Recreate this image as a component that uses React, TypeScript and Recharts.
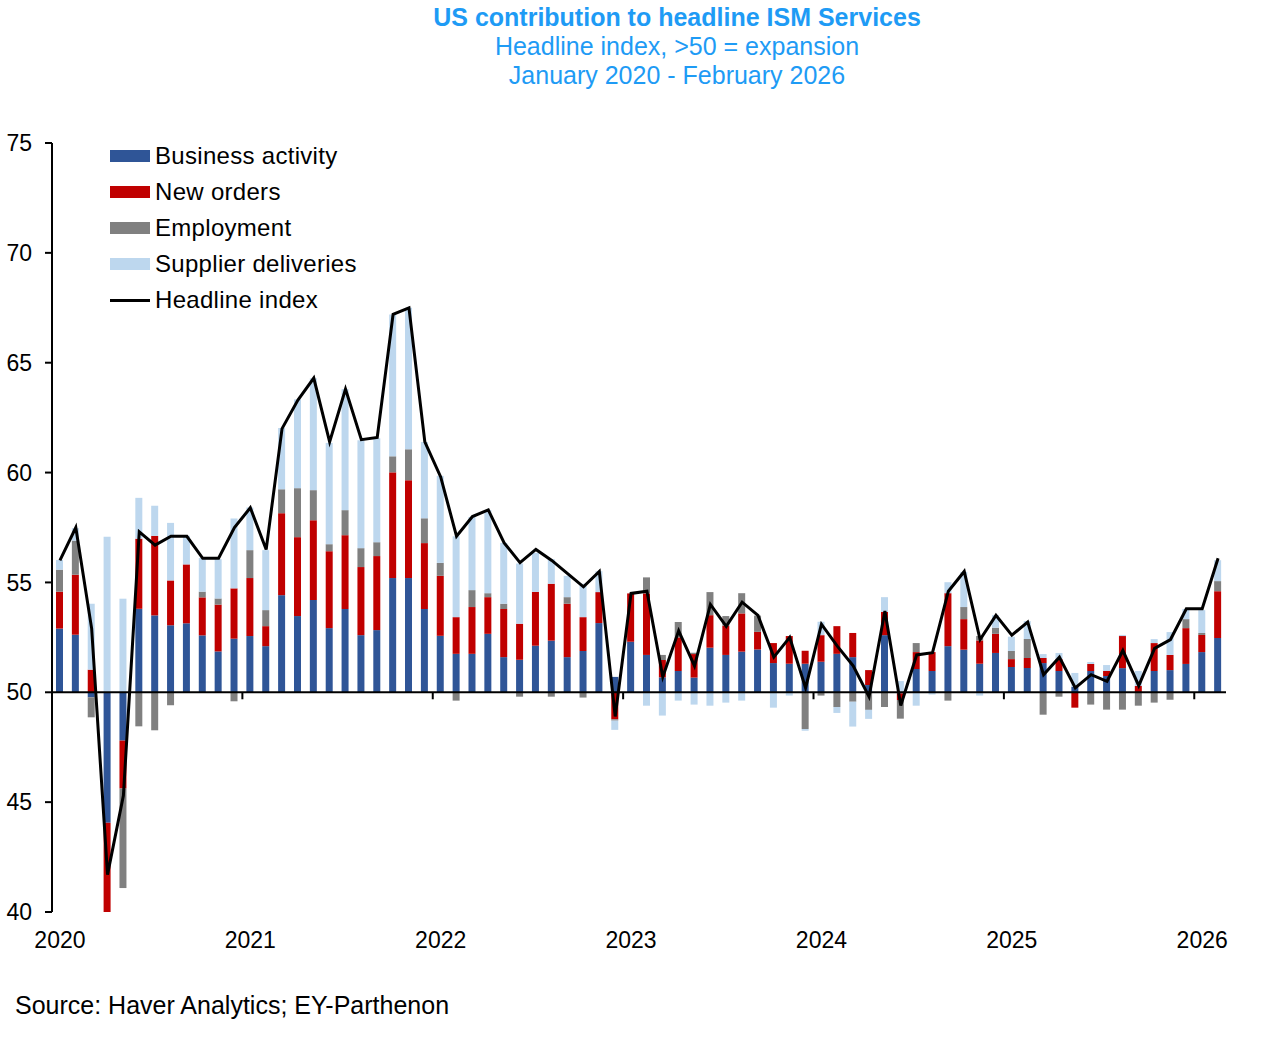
import React from "react";
import { Bar, ComposedChart, Legend, Line, ReferenceLine, XAxis, YAxis } from "recharts";

const YEARS = ["2020", "2021", "2022", "2023", "2024", "2025", "2026"];
const MONTH_COUNT = 74; // Jan 2020 - Feb 2026
const MONTHS = YEARS.flatMap((y) =>
  ["01", "02", "03", "04", "05", "06", "07", "08", "09", "10", "11", "12"].map((m) => `${y}-${m}`)
).slice(0, MONTH_COUNT);

// contributions to the headline, in index points (component - 50) / 4
const BUSINESS_ACTIVITY = [
  2.9, 2.62, -0.23, -5.94, -2.2, 3.8, 3.5, 3.05, 3.14, 2.59, 1.86, 2.44,
  2.56, 2.1, 4.42, 3.47, 4.2, 2.92, 3.79, 2.6, 2.83, 5.2, 5.2, 3.79,
  2.57, 1.75, 1.75, 2.66, 1.6, 1.48, 2.12, 2.35, 1.6, 1.88, 3.15, 0.7,
  2.3, 1.7, 0.68, 0.97, 0.67, 2.03, 1.7, 1.85, 1.95, 1.33, 1.3, 1.3,
  1.39, 1.75, 1.6, 0.33, 2.6, -0.05, 1.06, 0.97, 2.1, 1.94, 1.3, 1.79,
  1.15, 1.1, 1.33, 0.97, 0.25, 0.97, 0.74, 1.1, 0.0, 0.97, 1.01, 1.29,
  1.83, 2.47,
];
const NEW_ORDERS = [
  1.68, 2.73, 1.03, -4.3, -2.18, 3.19, 3.62, 2.04, 2.68, 1.73, 2.13, 2.29,
  2.64, 0.91, 3.73, 3.59, 3.63, 3.5, 3.36, 3.1, 3.37, 4.81, 4.45, 3.0,
  2.73, 1.67, 2.13, 1.67, 2.19, 1.64, 2.45, 2.59, 2.43, 1.54, 1.41, -1.23,
  2.2, 2.8, 0.79, 1.53, 1.07, 1.48, 1.33, 1.74, 0.8, 0.91, 1.26, 0.59,
  1.21, 1.26, 1.1, 0.68, 1.06, -0.3, 0.77, 0.86, 2.41, 1.39, 1.06, 0.87,
  0.36, 0.46, 0.23, 0.54, -0.7, 0.32, 0.23, 1.46, 0.29, 1.27, 0.69, 1.63,
  0.78, 2.13,
];
const EMPLOYMENT = [
  1.0, 1.55, -0.91, -5.0, -4.53, -1.55, -1.73, -0.59, 0, 0.26, 0.28, -0.41,
  1.27, 0.73, 1.09, 2.23, 1.37, 0.32, 1.14, 0.86, 0.63, 0.73, 1.41, 1.13,
  0.59, -0.38, 0.77, 0.18, 0.24, -0.2, 0, -0.2, 0.3, -0.24, 0, -0.06,
  0, 0.73, 0.23, 0.7, 0.06, 1.05, 0.44, 0.92, 0.74, 0, 0, -1.67,
  -0.15, -0.67, -0.43, -0.8, -0.67, -0.85, 0.41, 0, -0.38, 0.55, 0.2, 0.28,
  0.37, 0.86, -1.02, -0.2, 0, -0.56, -0.79, -0.79, -0.61, -0.47, -0.34, 0.41,
  0.09, 0.46,
];
const SUPPLIER_DELIVERIES = [
  0.44, 0.57, 3.0, 7.08, 4.26, 1.86, 1.37, 2.62, 1.3, 1.53, 1.79, 3.18,
  1.94, 2.73, 2.79, 4.04, 5.09, 4.61, 5.51, 4.91, 4.73, 6.46, 6.44, 3.47,
  3.96, 3.68, 3.33, 3.78, 2.77, 2.74, 1.78, 1.12, 0.97, 1.52, 0.95, -0.42,
  0, -0.61, -1.06, -0.38, -0.56, -0.61, -0.47, -0.38, 0, -0.7, -0.15, -0.08,
  0.61, -0.27, -1.13, -0.41, 0.67, 0.51, -0.61, -0.1, 0.5, 1.6, -0.15, 0.57,
  0.65, 0.82, 0.18, 0.28, 0.63, 0.09, 0.27, 0.05, 0.68, 0.18, 1.04, 0.46,
  1.04, 0.95,
];
const HEADLINE = [
  56.0, 57.5, 52.9, 41.7, 45.3, 57.3, 56.7, 57.1, 57.1, 56.1, 56.1, 57.5,
  58.4, 56.5, 62.0, 63.3, 64.3, 61.4, 63.8, 61.5, 61.6, 67.2, 67.5, 61.4,
  59.8, 57.1, 58.0, 58.3, 56.8, 55.9, 56.5, 56.0, 55.4, 54.8, 55.5, 48.9,
  54.5, 54.6, 50.7, 52.8, 51.2, 54.0, 53.0, 54.1, 53.5, 51.6, 52.5, 50.2,
  53.1, 52.1, 51.2, 49.8, 53.7, 49.4, 51.7, 51.8, 54.6, 55.5, 52.4, 53.5,
  52.6, 53.2, 50.8, 51.6, 50.2, 50.8, 50.5, 51.9, 50.3, 52.0, 52.4, 53.8,
  53.8, 56.1,
];

const SERIES_ORDER = ["Business activity", "New orders", "Employment", "Supplier deliveries", "Headline index"];
const BASE = 50; // bars stack up/down from the 50 line
const Y_TICKS = [40, 45, 50, 55, 60, 65, 70, 75];

const data = MONTHS.map((month, i) => ({
  month,
  business: BUSINESS_ACTIVITY[i],
  orders: NEW_ORDERS[i],
  employment: EMPLOYMENT[i],
  deliveries: SUPPLIER_DELIVERIES[i],
  headline: HEADLINE[i] - BASE,
}));

const W = 1287;
const H = 1039;
const PLOT_LEFT = 52;
const PLOT_RIGHT = 1226;
const PLOT_TOP = 143;
const PLOT_BOTTOM = 912;
const Y_MIN = Y_TICKS[0] - BASE;
const Y_MAX = Y_TICKS[Y_TICKS.length - 1] - BASE;
const BAND = (PLOT_RIGHT - PLOT_LEFT) / MONTHS.length;
const AXIS_Y = PLOT_TOP + (Y_MAX / (Y_MAX - Y_MIN)) * (PLOT_BOTTOM - PLOT_TOP);
const FONT = "'Liberation Sans', Arial, sans-serif";
const TITLE_BLUE = "#1e9bf5";

function YearTick(props: any) {
  const { x, payload } = props;
  const month: string = payload.value;
  if (!month.endsWith("-01")) return <g />;
  const edge = x - BAND / 2;
  return (
    <g>
      <line x1={edge} x2={edge} y1={AXIS_Y} y2={AXIS_Y + 7} stroke="#000" strokeWidth={2} />
      <text x={x} y={PLOT_BOTTOM + 36} textAnchor="middle" fontSize={23} fill="#000" fontFamily={FONT}>
        {month.slice(0, 4)}
      </text>
    </g>
  );
}

function LegendBox(props: any) {
  const payload = [...(props.payload || [])].sort(
    (a: any, b: any) => SERIES_ORDER.indexOf(a.value) - SERIES_ORDER.indexOf(b.value)
  );
  return (
    <div style={{ fontSize: 24, letterSpacing: 0.3, color: "#000", fontFamily: FONT }}>
      {payload.map((entry: any) => (
        <div key={entry.value} style={{ display: "flex", alignItems: "center", height: 36, whiteSpace: "nowrap" }}>
          <span
            style={{
              display: "inline-block",
              width: 40,
              height: entry.type === "line" ? 3 : 12,
              background: entry.color,
              marginRight: 5,
            }}
          />
          <span>{entry.value}</span>
        </div>
      ))}
    </div>
  );
}

export default function App() {
  return (
    <div style={{ position: "absolute", left: 0, top: 0, width: W, height: H, background: "#fff", fontFamily: FONT }}>
      <div
        style={{
          position: "absolute",
          left: 677,
          top: 3,
          transform: "translateX(-50%)",
          textAlign: "center",
          whiteSpace: "nowrap",
          color: TITLE_BLUE,
          fontSize: 25,
          lineHeight: "29px",
        }}
      >
        <div style={{ fontWeight: "bold" }}>US contribution to headline ISM Services</div>
        <div>Headline index, &gt;50 = expansion</div>
        <div>January 2020 - February 2026</div>
      </div>

      <ComposedChart
        width={W}
        height={H}
        data={data}
        stackOffset="sign"
        barSize={7}
        margin={{ top: PLOT_TOP, right: W - PLOT_RIGHT, bottom: 77, left: 0 }}
      >
        <XAxis
          dataKey="month"
          interval={0}
          height={H - PLOT_BOTTOM - 77}
          axisLine={false}
          tickLine={false}
          tick={YearTick}
        />
        <YAxis
          width={PLOT_LEFT}
          domain={[Y_MIN, Y_MAX]}
          ticks={Y_TICKS.map((t) => t - BASE)}
          allowDataOverflow
          tickFormatter={(v: number) => String(v + BASE)}
          axisLine={{ stroke: "#000", strokeWidth: 2 }}
          tickLine={{ stroke: "#000", strokeWidth: 2 }}
          tickSize={7}
          tickMargin={13}
          tick={{ fontSize: 23, fill: "#000", fontFamily: FONT }}
        />
        <Legend
          layout="vertical"
          align="center"
          verticalAlign="middle"
          wrapperStyle={{ left: 110, top: 138, width: "auto" }}
          content={LegendBox}
        />
        <Bar dataKey="business" name="Business activity" stackId="c" fill="#2f5597" isAnimationActive={false} />
        <Bar dataKey="orders" name="New orders" stackId="c" fill="#c00000" isAnimationActive={false} />
        <Bar dataKey="employment" name="Employment" stackId="c" fill="#808080" isAnimationActive={false} />
        <Bar dataKey="deliveries" name="Supplier deliveries" stackId="c" fill="#bdd7ee" isAnimationActive={false} />
        <ReferenceLine y={0} stroke="#000" strokeWidth={2} />
        <Line
          dataKey="headline"
          name="Headline index"
          type="linear"
          stroke="#000"
          strokeWidth={3}
          dot={false}
          activeDot={false}
          isAnimationActive={false}
        />
      </ComposedChart>

      <div style={{ position: "absolute", left: 15, top: 991, fontSize: 25, lineHeight: "28px", color: "#000" }}>
        Source: Haver Analytics; EY-Parthenon
      </div>
    </div>
  );
}
